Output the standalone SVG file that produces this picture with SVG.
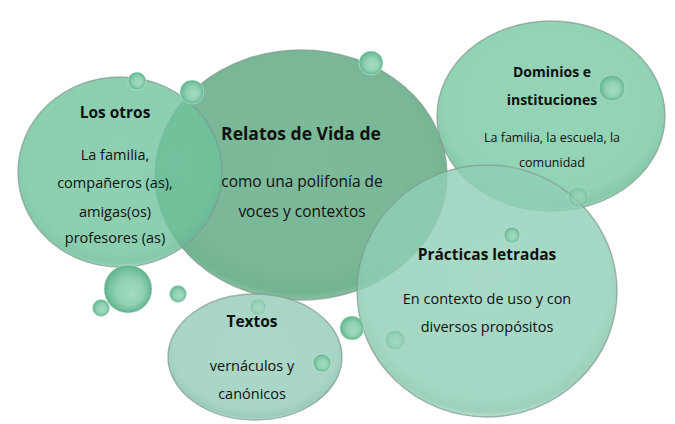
<svg xmlns="http://www.w3.org/2000/svg" width="675" height="424" viewBox="0 0 675 424">
<defs>
<radialGradient id="gRel" cx="0.5" cy="0.45" r="0.55">
<stop offset="0" stop-color="#7cba9a"/>
<stop offset="0.8" stop-color="#79b797"/>
<stop offset="0.95" stop-color="#74b392"/>
<stop offset="1" stop-color="#86c2a3"/>
</radialGradient>
<radialGradient id="gOtr" cx="0.5" cy="0.45" r="0.55">
<stop offset="0" stop-color="#72c59f"/>
<stop offset="0.85" stop-color="#6fc39c"/>
<stop offset="0.96" stop-color="#68bb95"/>
<stop offset="1" stop-color="#7fcaa7"/>
</radialGradient>
<radialGradient id="gDom" cx="0.5" cy="0.45" r="0.55">
<stop offset="0" stop-color="#95d4b7"/>
<stop offset="0.85" stop-color="#92d2b5"/>
<stop offset="0.96" stop-color="#88c8aa"/>
<stop offset="1" stop-color="#a0d8be"/>
</radialGradient>
<radialGradient id="gPra" cx="0.5" cy="0.45" r="0.55">
<stop offset="0" stop-color="#93d1b9"/>
<stop offset="0.85" stop-color="#90cfb6"/>
<stop offset="0.96" stop-color="#86c6ac"/>
<stop offset="1" stop-color="#a3dac5"/>
</radialGradient>
<radialGradient id="gTex" cx="0.5" cy="0.45" r="0.55">
<stop offset="0" stop-color="#abd8c8"/>
<stop offset="0.85" stop-color="#a8d5c5"/>
<stop offset="0.96" stop-color="#9ccbb9"/>
<stop offset="1" stop-color="#b6ddcf"/>
</radialGradient>
<radialGradient id="gBub" cx="0.5" cy="0.5" r="0.5" fx="0.6" fy="0.62">
<stop offset="0" stop-color="#a4dcc2"/>
<stop offset="0.55" stop-color="#91d2b3"/>
<stop offset="0.85" stop-color="#72bf9b"/>
<stop offset="1" stop-color="#5aae88"/>
</radialGradient>
<style>
.big{stroke:#7f9a8c;stroke-opacity:0.7;stroke-width:1.4}
.bub{fill:url(#gBub);stroke:#d6efe4;stroke-opacity:0.7;stroke-width:0.8}
.faint{opacity:0.5}
text{font-family:"Open Sans","Noto Sans","DejaVu Sans",sans-serif;fill:#111;text-anchor:middle}
.t{font-weight:bold;font-size:15.5px}
.b{font-size:14.5px}
.s{font-size:12.5px}
</style>
</defs>
<rect width="675" height="424" fill="#ffffff"/>
<g id="connectors"/>
<g id="relatos">
<ellipse class="big" cx="301" cy="175" rx="146" ry="125" fill="url(#gRel)"/>
</g>
<g id="los-otros">
<ellipse class="big" cx="120" cy="172" rx="102" ry="95" fill="url(#gOtr)" fill-opacity="0.8"/>
</g>
<g id="dominios">
<ellipse class="big" cx="551" cy="116" rx="114" ry="95" fill="url(#gDom)"/>
</g>
<g id="practicas">
<ellipse class="big" cx="487" cy="291" rx="130" ry="126" fill="url(#gPra)" fill-opacity="0.81"/>
</g>
<g id="textos">
<ellipse class="big" cx="255" cy="357" rx="87" ry="63" fill="url(#gTex)"/>
</g>
<g id="bubbles">
<circle class="bub" cx="137" cy="81" r="9"/>
<circle class="bub" cx="192" cy="92" r="12"/>
<circle class="bub" cx="371" cy="63" r="12"/>
<circle class="bub" cx="128" cy="289" r="24"/>
<circle class="bub" cx="178" cy="294" r="8.5"/>
<circle class="bub" cx="101" cy="308" r="8.5"/>
<circle class="bub faint" cx="258" cy="307" r="8"/>
<circle class="bub" cx="322" cy="363" r="9"/>
<circle class="bub" cx="352" cy="328" r="12"/>
<circle class="bub faint" cx="395" cy="340" r="10"/>
<circle class="bub" cx="512" cy="235" r="8"/>
<circle class="bub faint" cx="578" cy="197" r="10"/>
<circle class="bub" cx="612" cy="88" r="13"/>
</g>
<g id="labels">
<text class="t" x="115" y="118">Los otros</text>
<text class="b" x="115" y="160">La familia,</text>
<text class="b" x="115" y="188">compañeros (as),</text>
<text class="b" x="115" y="217">amigas(os)</text>
<text class="b" x="115" y="243">profesores (as)</text>
<text class="t" x="301" y="140" style="font-size:17.5px">Relatos de Vida de</text>
<text class="b" x="302" y="187" style="font-size:15.5px">como una polifonía de</text>
<text class="b" x="302" y="217" style="font-size:15.5px">voces y contextos</text>
<text class="t" x="552" y="77" style="font-size:14px">Dominios e</text>
<text class="t" x="552" y="105" style="font-size:14px">instituciones</text>
<text class="s" x="552" y="142">La familia, la escuela, la</text>
<text class="s" x="552" y="167">comunidad</text>
<text class="t" x="487" y="260">Prácticas letradas</text>
<text class="b" x="487" y="304">En contexto de uso y con</text>
<text class="b" x="487" y="332">diversos propósitos</text>
<text class="t" x="252" y="327">Textos</text>
<text class="b" x="252" y="371">vernáculos y</text>
<text class="b" x="252" y="399">canónicos</text>
</g>
</svg>
